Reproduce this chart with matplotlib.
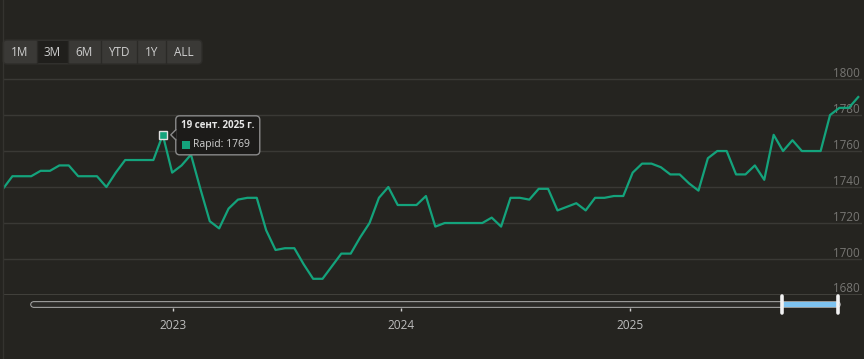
import numpy as np
import matplotlib
matplotlib.use('Agg')
import matplotlib.pyplot as plt
from matplotlib.patches import FancyBboxPatch, Rectangle, Polygon
from matplotlib import transforms

plt.rcParams['font.family'] = ['Open Sans', 'DejaVu Sans']

# weekly "Rapid" rating values
rapid = [1739, 1746, 1746, 1746, 1749, 1749, 1752, 1752, 1746, 1746,
         1746, 1740, 1748, 1755, 1755, 1755, 1755, 1769, 1748, 1752,
         1758, 1739, 1721, 1717, 1728, 1733, 1734, 1734, 1716, 1705,
         1706, 1706, 1697, 1689, 1689, 1696, 1703, 1703, 1712, 1720,
         1734, 1740, 1730, 1730, 1730, 1735, 1718, 1720, 1720, 1720,
         1720, 1720, 1723, 1718, 1734, 1734, 1733, 1739, 1739, 1727,
         1729, 1731, 1727, 1734, 1734, 1735, 1735, 1748, 1753, 1753,
         1751, 1747, 1747, 1742, 1738, 1756, 1760, 1760, 1747, 1747,
         1752, 1744, 1769, 1760, 1766, 1760, 1760, 1760, 1780, 1784,
         1784, 1790]
y_ticks = [1680, 1700, 1720, 1740, 1760, 1780, 1800]
nav_years = [2023, 2024, 2025]
buttons = ['1M', '3M', '6M', 'YTD', '1Y', 'ALL']
selected_button = '3M'
hover_idx = 17
hover_label = '19 сент. 2025 г.'

bg = '#252420'
grid_c = '#3a3935'
green = '#14a37c'

W, H = 864, 359
fig = plt.figure(figsize=(W / 100, H / 100), dpi=100, facecolor=bg)
# pixel coords, origin at top-left
px = transforms.Affine2D().scale(1 / W, -1 / H).translate(0, 1) + fig.transFigure

# main chart
ax = fig.add_axes([3 / W, 1 - 295 / H, 859 / W, 230 / H])
ax.set_facecolor(bg)
x = np.arange(len(rapid))
ax.plot(x, rapid, color=green, lw=1.6, zorder=3)
ax.set_xlim(0, 91.4)
ax.set_ylim(1680, 1807.8)
ax.set_yticks(y_ticks)
ax.set_xticks([])
ax.tick_params(axis='y', length=0, labelleft=False)
ax.yaxis.grid(True, color=grid_c, lw=1)
for s in ax.spines.values():
    s.set_visible(False)
ax.axhline(1680, color='#44433e', lw=1.3, zorder=2)
lab_tr = transforms.offset_copy(transforms.blended_transform_factory(ax.transAxes, ax.transData),
                                fig=fig, x=-2, y=6, units='dots')
for v in y_ticks:
    ax.text(1.0, v, str(v), transform=lab_tr, ha='right', va='center',
            fontsize=8.4, color='#777673', zorder=1)

# thin left border
fig.add_artist(plt.Line2D([3, 3], [0, H], transform=px, color='#34332f', lw=1))

# hovered point + tooltip
ax.plot([hover_idx], [rapid[hover_idx]], marker='s', ms=5.5, mfc=green, mec='#e0e0e0',
        mew=1, zorder=4)
dx, dy = ax.transData.transform((hover_idx, rapid[hover_idx]))
hx, hy = dx, H - dy
bx, by, bw, bh = hx + 13, hy - 19, 84, 39
fig.add_artist(FancyBboxPatch((bx, by), bw, bh, boxstyle='round,pad=0,rounding_size=4',
                              fc='#1c1b19', ec='#8a8a8a', lw=1, transform=px, zorder=5))
fig.add_artist(Polygon([(bx + 0.8, hy - 5), (bx - 5, hy), (bx + 0.8, hy + 5)], closed=True,
                       fc='#1c1b19', ec='none', transform=px, zorder=6))
fig.add_artist(plt.Line2D([bx, bx - 5, bx], [hy - 5, hy, hy + 5], transform=px,
                          color='#8a8a8a', lw=1, zorder=6))
fig.text((bx + 5.5) / W, 1 - (hy - 9) / H, hover_label, fontsize=7.0, fontweight='bold',
         color='#e6e6e6', va='center', ha='left', zorder=7)
fig.add_artist(Rectangle((bx + 6, hy + 6), 8, 8, fc=green, ec='none', transform=px, zorder=7))
fig.text((bx + 17) / W, 1 - (hy + 10) / H, 'Rapid: %d' % rapid[hover_idx], fontsize=7.5,
         color='#d2d2d2', va='center', ha='left', zorder=7)

# range selector buttons
edges = [3, 37, 68, 101, 137, 166, 202]
fig.add_artist(FancyBboxPatch((edges[0], 40), edges[-1] - edges[0], 24,
                              boxstyle='round,pad=0,rounding_size=4', fc='#3a3936',
                              ec='#2e2d2a', lw=1, transform=px))
for i, b in enumerate(buttons):
    l, r = edges[i], edges[i + 1]
    if b == selected_button:
        fig.add_artist(Rectangle((l, 41), r - l, 22, fc='#201f1c', ec='none', transform=px))
    if i > 0:
        fig.add_artist(plt.Line2D([l, l], [41, 63], transform=px, color='#2b2a27', lw=1))
    fig.text((l + r) / 2 / W, 1 - 52 / H, b, fontsize=8.5, color='#cfcfcf',
             ha='center', va='center')

# navigator
yr0, k = 2023, 228.5
def yr(p):
    return yr0 + (p - 173) / k
nav = fig.add_axes([0, 1 - 308 / H, 1, 12 / H])
nav.set_facecolor('none')
nav.set_xlim(yr(0), yr(W))
nav.set_ylim(0, 1)
for s in nav.spines.values():
    s.set_visible(False)
nav.set_yticks([])
nav.set_xticks(nav_years)
nav.set_xticklabels([str(y) for y in nav_years])
nav.tick_params(axis='x', length=2.4, width=1, color='#cfcfcf', labelcolor='#bdbdbd',
                labelsize=8.6, pad=5.5)
t0, t1 = yr(33), yr(837)
s0, s1 = yr(782), yr(838)
nav.plot([t0, t1], [0.33, 0.33], color='#b0b0b0', lw=4.8, solid_capstyle='round')
nav.plot([t0, t1], [0.33, 0.33], color='#2b2a27', lw=3.4, solid_capstyle='round')
nav.plot([s0, s1], [0.33, 0.33], color='#7ec3f0', lw=3.6, solid_capstyle='butt')
for h in (s0, s1):
    nav.plot([h, h], [1.0, -0.42], color='#f2f2f2', lw=2.6, solid_capstyle='round',
             clip_on=False)

fig.savefig('out.png', dpi=100, facecolor=bg)
